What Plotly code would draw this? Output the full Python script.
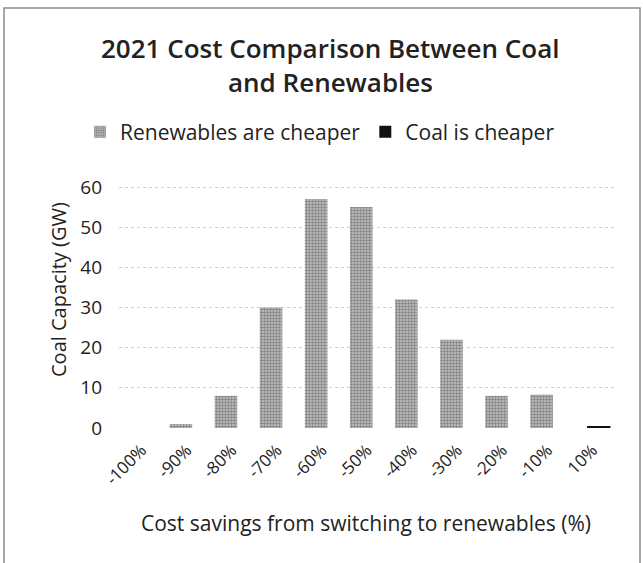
import plotly.graph_objects as go

categories = ["-100%", "-90%", "-80%", "-70%", "-60%", "-50%", "-40%", "-30%", "-20%", "-10%", "10%"]
renewables_cheaper = [0, 1, 8, 30, 57, 55, 32, 22, 8, 8.3, None]
coal_cheaper = [None, None, None, None, None, None, None, None, None, None, 0.5]
y_ticks = [0, 10, 20, 30, 40, 50, 60]
title_lines = ["2021 Cost Comparison Between Coal", "and Renewables"]
x_title = "Cost savings from switching to renewables (%)"
y_title = "Coal Capacity (GW)"

FONT = "Open Sans"
TXT = "#222222"

# plot area in pixels
L, R, T, B = 119, 615, 185, 428
W, H = R - L, B - T


def px_x(px):
    return (px - L) / W


def px_y(py):
    return (B - py) / H


fig = go.Figure()
fig.add_trace(go.Bar(
    x=categories, y=renewables_cheaper, name="Renewables are cheaper",
    marker=dict(color="#c4c4c4", line=dict(width=0),
                pattern=dict(shape=".", fgcolor="#404040", size=3, solidity=0.5)),
    width=0.5, offset=-0.378,
))
fig.add_trace(go.Bar(
    x=categories, y=coal_cheaper, name="Coal is cheaper",
    marker=dict(color="#111111", line=dict(width=0)),
    width=0.52, offset=-0.12,
))

annotations = [
    dict(text=title_lines[0], xref="paper", yref="paper", x=px_x(330), y=px_y(48),
         xanchor="center", yanchor="middle", showarrow=False,
         font=dict(size=26, family=FONT, color=TXT, weight=600)),
    dict(text=title_lines[1], xref="paper", yref="paper", x=px_x(330), y=px_y(82),
         xanchor="center", yanchor="middle", showarrow=False,
         font=dict(size=26, family=FONT, color=TXT, weight=600)),
    dict(text=x_title, xref="paper", yref="paper", x=px_x(366), y=px_y(523),
         xanchor="center", yanchor="middle", showarrow=False,
         font=dict(size=21, family=FONT, color=TXT)),
    dict(text=y_title, xref="paper", yref="paper", x=px_x(58), y=px_y(290),
         xanchor="center", yanchor="middle", showarrow=False, textangle=-90,
         font=dict(size=20, family=FONT, color=TXT)),
]

fig.update_layout(
    width=643, height=563,
    margin=dict(l=L, r=643 - R, t=T, b=563 - B, autoexpand=False),
    paper_bgcolor="white", plot_bgcolor="white",
    barmode="overlay",
    font=dict(family=FONT, color=TXT),
    legend=dict(orientation="h", xref="paper", yref="paper",
                x=px_x(80), xanchor="left", y=px_y(132), yanchor="middle",
                font=dict(size=21, family=FONT, color=TXT),
                itemwidth=30, traceorder="normal"),
    xaxis=dict(type="category", categoryorder="array", categoryarray=categories,
               range=[-0.5, 10.5], tickangle=-45, showgrid=False, showline=False,
               ticks="", automargin=False, ticklabelstandoff=8,
               tickfont=dict(size=17, family=FONT, color=TXT)),
    yaxis=dict(range=[0, 60.5], tickvals=y_ticks, showgrid=True, gridcolor="#cfcfcf",
               griddash="dot", gridwidth=1, zeroline=False, showline=False, ticks="",
               automargin=False, ticklabelstandoff=16,
               tickfont=dict(size=19, family=FONT, color=TXT)),
    annotations=annotations,
    shapes=[dict(type="rect", xref="paper", yref="paper",
                 x0=px_x(4), x1=px_x(640), y0=px_y(575), y1=px_y(8),
                 line=dict(color="#8a8a8a", width=1.5), fillcolor="rgba(0,0,0,0)",
                 layer="below")],
)

fig.write_html("out.html", config={"displayModeBar": False},
               post_script="document.body.style.margin='0px';")
